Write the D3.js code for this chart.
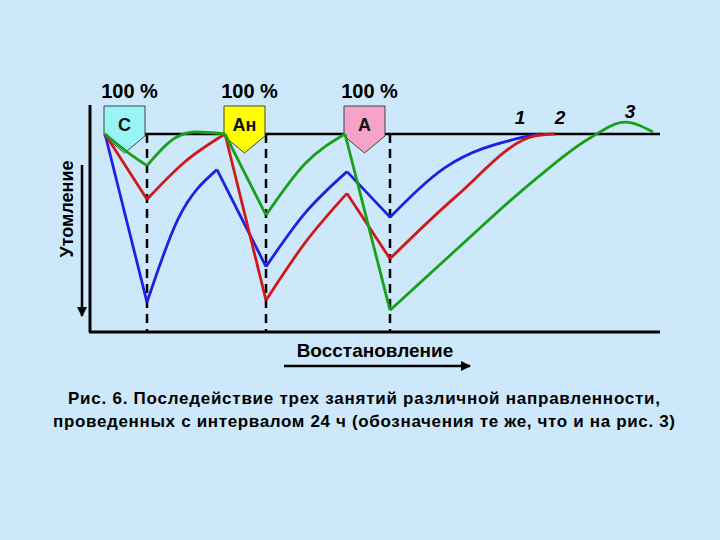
<!DOCTYPE html>
<html><head><meta charset="utf-8">
<script src="https://cdn.jsdelivr.net/npm/d3@7"></script>
<style>body{margin:0;background:#cce8fa}</style>
</head><body><div id="chart"></div>
<script>
// hours since first session, fatigue (0 = 100 % level, larger = deeper)
var blue=[
 [[0,0],[8.4,85]],
 [[8.4,85],[14.6,43],[22.4,18]],
 [[22.4,18],[32.2,67]],
 [[32.2,67],[40,40],[48.4,19]],
 [[48.4,19],[57,42]],
 [[57,42],[68,17],[83,2],[87,0]]
];
var red=[
 [[0,0],[8.4,33]],
 [[8.4,33],[16,14],[24,0]],
 [[24,0],[32.2,84]],
 [[32.2,84],[40,55],[48.4,30]],
 [[48.4,30],[57,63]],
 [[57,63],[70,32],[86,1],[90,0]]
];
var green=[
 [[0,0],[4.4,9],[8.4,16]],
 [[8.4,16],[14,2],[18,-1],[24,0]],
 [[24,0],[32.2,41]],
 [[32.2,41],[40,15],[48,0]],
 [[48,0],[57,89]],
 [[57,89],[70,59],[86,23],[97,2],[104,-6],[109.6,-1]]
];
var series=[{c:"#2020e0",d:blue},{c:"#d01818",d:red},{c:"#18a018",d:green}];
var sessions=[{t:0,label:"С",fill:"#99f5f5"},{t:24,label:"Ан",fill:"#ffff00"},{t:48,label:"А",fill:"#f5a3c8"}];
var loadEnd=[8.4,32.2,57];
var curveLabels=[{t:83,text:"1"},{t:91,text:"2"},{t:105,text:"3"}];

var W=720,H=540;
var svg=d3.select("#chart").append("svg").attr("width",W).attr("height",H);
var x=d3.scaleLinear().domain([-3,111]).range([90,660]);
var y=d3.scaleLinear().domain([0,100]).range([134,332]);
var font="Arial, 'Liberation Sans', sans-serif";

// axes
svg.append("line").attr("x1",90).attr("x2",90).attr("y1",105).attr("y2",332).attr("stroke","#000").attr("stroke-width",3);
svg.append("line").attr("x1",89).attr("x2",660).attr("y1",332).attr("y2",332).attr("stroke","#000").attr("stroke-width",3);
svg.append("line").attr("x1",x(0)).attr("x2",660).attr("y1",y(0)).attr("y2",y(0)).attr("stroke","#000").attr("stroke-width",2.5);

// dashed
svg.selectAll(".dash").data(loadEnd).enter().append("line")
 .attr("x1",d=>x(d)).attr("x2",d=>x(d)).attr("y1",y(0)).attr("y2",332)
 .attr("stroke","#000").attr("stroke-width",2.5).attr("stroke-dasharray","9,6");

// arrows
svg.append("defs").append("marker").attr("id","ah").attr("viewBox","0 0 10 10").attr("refX",9).attr("refY",5)
 .attr("markerWidth",4).attr("markerHeight",4).attr("orient","auto")
 .append("path").attr("d","M0,0L10,5L0,10z").attr("fill","#000");
svg.append("line").attr("x1",82).attr("x2",82).attr("y1",165).attr("y2",316).attr("stroke","#000").attr("stroke-width",2.5).attr("marker-end","url(#ah)");
svg.append("line").attr("x1",284).attr("x2",470).attr("y1",366).attr("y2",366).attr("stroke","#000").attr("stroke-width",2.5).attr("marker-end","url(#ah)");

// boxes
var bw=41;
sessions.forEach(function(s){
  var x0=x(s.t)-1,cx=x0+bw/2;
  svg.append("path").attr("d","M"+x0+",106H"+(x0+bw)+"V136L"+cx+",153L"+x0+",136Z")
   .attr("fill",s.fill).attr("stroke","#444").attr("stroke-width",1);
  svg.append("text").attr("x",cx).attr("y",131).attr("text-anchor","middle").attr("font-family",font)
   .attr("font-size",18).attr("font-weight","bold").attr("fill","#111").text(s.label);
  svg.append("text").attr("x",cx+5).attr("y",98).attr("text-anchor","middle").attr("font-family",font)
   .attr("font-size",20).attr("font-weight","bold").text("100 %");
});

// curves
var line=d3.line().x(d=>x(d[0])).y(d=>y(d[1])).curve(d3.curveMonotoneX);
series.forEach(function(s){
  svg.append("g").selectAll("path").data(s.d).enter().append("path")
   .attr("d",line).attr("fill","none").attr("stroke",s.c).attr("stroke-width",2.8).attr("stroke-linejoin","round");
});

svg.selectAll(".cl").data(curveLabels).enter().append("text")
 .attr("x",d=>x(d.t)).attr("y",(d,i)=>i==2?118:124).attr("text-anchor","middle").attr("font-family",font)
 .attr("font-size",19).attr("font-weight","bold").attr("font-style","italic").text(d=>d.text);

svg.append("text").attr("transform","translate(73,209) rotate(-90)").attr("text-anchor","middle")
 .attr("font-family",font).attr("font-size",18).attr("font-weight","bold").text("Утомление");
svg.append("text").attr("x",375).attr("y",357).attr("text-anchor","middle")
 .attr("font-family",font).attr("font-size",19).attr("font-weight","bold").text("Восстановление");
svg.append("text").attr("x",364).attr("y",404).attr("text-anchor","middle")
 .attr("font-family",font).attr("font-size",17).attr("font-weight","bold").attr("textLength",592).text("Рис. 6. Последействие трех занятий различной направленности,");
svg.append("text").attr("x",364).attr("y",427).attr("text-anchor","middle")
 .attr("font-family",font).attr("font-size",17).attr("font-weight","bold").attr("textLength",622).text("проведенных с интервалом 24 ч (обозначения те же, что и на рис. 3)");
</script></body></html>
